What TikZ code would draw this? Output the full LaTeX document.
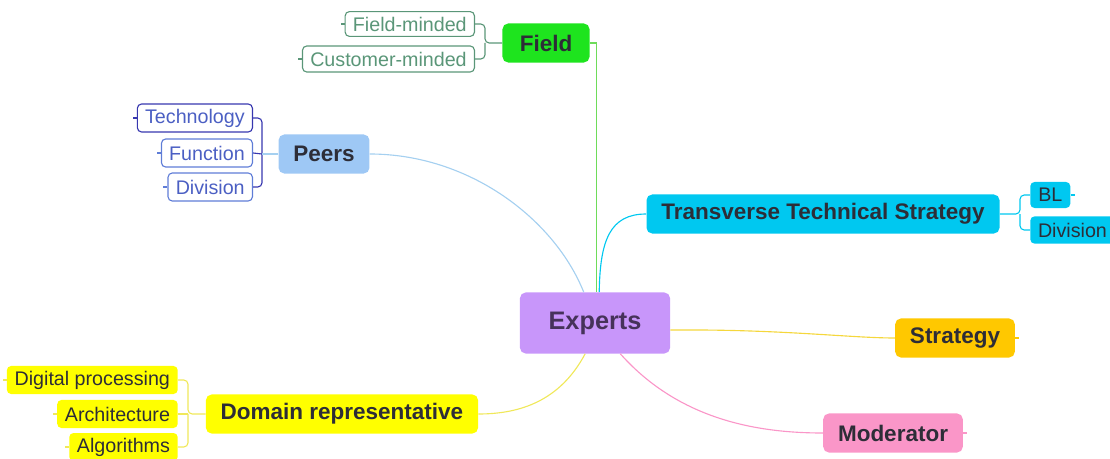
\documentclass[tikz,border=0pt]{standalone}
\usepackage{fontspec}
\setmainfont{Liberation Sans}
\definecolor{inkgray}{RGB}{45,45,55}
\definecolor{expertfill}{RGB}{200,150,250}
\definecolor{expertink}{RGB}{70,50,90}
\definecolor{fieldfill}{RGB}{30,228,30}
\definecolor{fieldlink}{RGB}{110,220,90}
\definecolor{fieldleaf}{RGB}{90,150,120}
\definecolor{peersfill}{RGB}{158,200,245}
\definecolor{peerslink}{RGB}{165,208,240}
\definecolor{techblue}{RGB}{55,55,175}
\definecolor{leafblue}{RGB}{95,125,215}
\definecolor{leafink}{RGB}{75,95,195}
\definecolor{transfill}{RGB}{0,200,240}
\definecolor{stratfill}{RGB}{255,200,0}
\definecolor{stratlink}{RGB}{245,215,60}
\definecolor{modfill}{RGB}{250,150,200}
\definecolor{domainfill}{RGB}{255,255,0}
\definecolor{domainlink}{RGB}{240,232,90}
\begin{document}
\begin{tikzpicture}[x=0.025cm,y=-0.025cm,
    topic/.style={rounded corners=4pt, inner xsep=10.5pt, minimum height=0.975cm,
      font=\fontsize{16}{18}\selectfont\bfseries, text=inkgray},
    leaf/.style={rounded corners=3pt, inner xsep=5.5pt, minimum height=0.7cm,
      font=\fontsize{14}{16}\selectfont},
    link/.style={line width=0.8pt}]
  \useasboundingbox (0,0) rectangle (1110,459);
  \node[topic, fill=expertfill, minimum width=3.75cm, minimum height=1.525cm,
    font=\fontsize{18}{20}\selectfont\bfseries, text=expertink] (experts) at (595,323) {Experts};
  \node[topic, fill=fieldfill, minimum width=2.175cm] (field) at (546,43) {Field};
  \node[topic, fill=peersfill] (peers) at (324,154) {Peers};
  \node[topic, fill=transfill] (trans) at (823,214) {Transverse Technical Strategy};
  \node[topic, fill=stratfill] (strat) at (955,338) {Strategy};
  \node[topic, fill=modfill] (moder) at (893,433) {Moderator};
  \node[topic, fill=domainfill] (domain) at (342,414) {Domain representative};
  \node[leaf, draw=fieldleaf, text=fieldleaf, line width=0.8pt, minimum height=0.62cm, anchor=east] (fieldmind) at (475,24) {Field-minded};
  \node[leaf, draw=fieldleaf, text=fieldleaf, line width=0.8pt, minimum height=0.65cm, anchor=east] (custmind) at (475,59) {Customer-minded};
  \node[leaf, draw=techblue, text=leafink, line width=0.8pt, anchor=east] (techno) at (253,118) {Technology};
  \node[leaf, draw=leafblue, text=leafink, line width=0.8pt, anchor=east] (func) at (253,153) {Function};
  \node[leaf, draw=leafblue, text=leafink, line width=0.8pt, anchor=east] (peerdiv) at (253,187) {Division};
  \node[leaf, fill=transfill, text=inkgray, minimum width=1cm, minimum height=0.65cm, anchor=west] (bl) at (1030,195) {BL};
  \node[leaf, fill=transfill, text=inkgray, minimum height=0.68cm, anchor=west] (transdiv) at (1030,230) {Division};
  \node[leaf, fill=domainfill, text=inkgray, anchor=east] (digital) at (178,380) {Digital processing};
  \node[leaf, fill=domainfill, text=inkgray, anchor=east] (archi) at (178,414) {Architecture};
  \node[leaf, fill=domainfill, text=inkgray, anchor=east] (algo) at (178,447) {Algorithms};
  \coordinate (fieldfork) at (485,43);
  \coordinate (peersfork) at (262,154);
  \coordinate (transfork) at (1020,214);
  \coordinate (domainfork) at (188,414);
  \draw[link, fieldlink] (field.east) -| ([xshift=1pt]experts.north);
  \draw[link, peerslink] (peers.east) .. controls (470,154) and (555,220) .. ([xshift=-8pt]experts.north);
  \draw[link, transfill] ([xshift=3pt]experts.north) .. controls (600,240) and (610,214) .. (trans.west);
  \draw[link, stratlink] ([yshift=-5pt]experts.east) .. controls (780,329) and (850,338) .. (strat.west);
  \draw[link, modfill] ([xshift=18pt]experts.south) .. controls (680,421) and (760,433) .. (moder.west);
  \draw[link, domainlink] ([xshift=-7pt]experts.south) .. controls (560,401) and (520,414) .. (domain.east);
  \draw[link, fieldleaf, rounded corners=3pt] (field.west) -- (fieldfork) |- (fieldmind.east);
  \draw[link, fieldleaf, rounded corners=3pt] (fieldfork) |- (custmind.east);
  \draw[link, techblue, rounded corners=3pt] (peersfork) |- (techno.east);
  \draw[link, techblue, rounded corners=3pt] (peersfork) |- (peerdiv.east);
  \draw[link, techblue] (peersfork) -- (func.east);
  \draw[link, peerslink] (peers.west) -- (peersfork);
  \draw[link, transfill, rounded corners=3pt] (trans.east) -- (transfork) |- (bl.west);
  \draw[link, transfill, rounded corners=3pt] (transfork) |- (transdiv.west);
  \draw[link, domainlink, rounded corners=3pt] (domain.west) -- (domainfork) |- (digital.east);
  \draw[link, domainlink, rounded corners=3pt] (domainfork) |- (algo.east);
  \draw[link, domainlink] (domainfork) -- (archi.east);
  \draw[link, fieldleaf] (fieldmind.west) -- ++(-4,0);
  \draw[link, fieldleaf] (custmind.west) -- ++(-4,0);
  \draw[link, techblue] (techno.west) -- ++(-4,0);
  \draw[link, leafblue] (func.west) -- ++(-4,0);
  \draw[link, leafblue] (peerdiv.west) -- ++(-4,0);
  \draw[link, domainlink] (digital.west) -- ++(-4,0);
  \draw[link, domainlink] (archi.west) -- ++(-4,0);
  \draw[link, domainlink] (algo.west) -- ++(-4,0);
  \draw[link, transfill] (bl.east) -- ++(4,0);
  \draw[link, stratfill] (strat.east) -- ++(4,0);
  \draw[link, modfill] (moder.east) -- ++(4,0);
\end{tikzpicture}
\end{document}
